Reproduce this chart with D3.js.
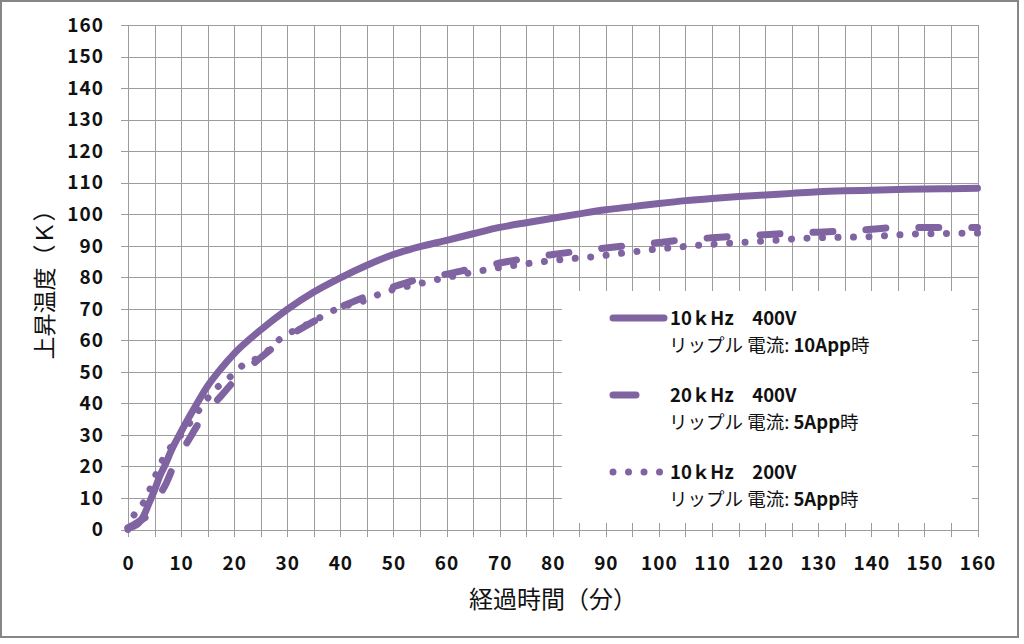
<!DOCTYPE html>
<html><head><meta charset="utf-8">
<script src="https://cdn.jsdelivr.net/npm/d3@7"></script>
<style>html,body{margin:0;padding:0;background:#fff;}svg{display:block;}</style>
</head><body>
<svg id="c" width="1024" height="644"></svg>
<script>
// ---- data ----
const xTicks = [0,10,20,30,40,50,60,70,80,90,100,110,120,130,140,150,160];
const yTicks = [0,10,20,30,40,50,60,70,80,90,100,110,120,130,140,150,160];
const xGrid = d3.range(0, 161, 5);

const seriesNames = ["10ｋHz　400V", "20ｋHz　400V", "10ｋHz　200V"];
const seriesSub = ["10App", "5App", "5App"];

const timeSolid = [0,1,2,3,4,5,6,7,8,10,12.5,15,17.5,20,25,30,35,40,45,50,55,60,65,70,75,80,85,90,95,100,105,110,115,120,125,130,135,140,145,150,155,160];
const valSolid  = [0.5,1,2,4.5,8.5,12.5,17,20.5,24.5,31,38.5,45.5,51,55.8,63.3,69.8,75.3,79.8,83.8,87.2,89.7,91.7,93.8,95.8,97.3,98.7,100.1,101.4,102.4,103.4,104.3,105,105.6,106.1,106.6,107.1,107.4,107.6,107.8,108,108.1,108.2];

const timeDash = [0,2,4,6,7,8.7,11.5,14,17.5,20.5,25,30,35,40,45,50,55,60,65,70,75,80,85,90,95,100,105,110,115,120,125,130,135,140,145,150,155,160];
const valDash  = [0.5,2.5,5,11,14,20.5,28.6,35.5,42.3,48,54.5,61,66,70.5,74,77,79.5,81,82.8,84.5,86,87.2,88.3,89.3,90.2,91,92,92.5,93.1,93.5,94,94.3,94.7,95.2,95.8,95.8,95.8,95.8];

const timeDot = [0,1.5,3.4,4.6,6.8,10,13.7,15.6,20,22.2,24.7,29.4,32.5,35,40,44.4,48,55,59.4,68,79.4,88,99.5,108,120,128,140,148,160];
const valDot  = [0,5.8,9.7,14.8,23,30,38.6,42.9,49.5,52.9,54.5,61.4,64,66.2,70.4,72.5,75.1,78,79.7,82.5,85.2,86.6,88.9,90.2,91.5,92.4,92.9,93.7,94];

// ---- layout ----
const color = "#8064A2";
const svg = d3.select("#c");
const x = d3.scaleLinear().domain([0,160]).range([128, 977.5]);
const y = d3.scaleLinear().domain([0,160]).range([529.5, 25]);
const font = "'Noto Sans CJK JP','Noto Sans',sans-serif";

svg.append("rect").attr("x",0).attr("y",0).attr("width",1024).attr("height",644).attr("fill","#fff");
svg.append("rect").attr("x",1).attr("y",1).attr("width",1017).attr("height",636)
  .attr("fill","#fff").attr("stroke","#868686").attr("stroke-width",2);

// grid
const grid = svg.append("g").attr("stroke","#9c9c9c").attr("stroke-width",1).attr("shape-rendering","crispEdges");
grid.selectAll("line.v").data(xGrid).join("line")
  .attr("x1",d=>Math.round(x(d))+0.5).attr("x2",d=>Math.round(x(d))+0.5)
  .attr("y1",y(160)).attr("y2",y(0)+7);
grid.selectAll("line.h").data(yTicks).join("line")
  .attr("x1",x(0)-7).attr("x2",x(160))
  .attr("y1",d=>Math.round(y(d))+0.5).attr("y2",d=>Math.round(y(d))+0.5);

// axes labels
svg.append("g").selectAll("text").data(yTicks).join("text")
  .attr("x",104).attr("y",d=>y(d)).attr("dy","0.36em").attr("text-anchor","end")
  .attr("font-family",font).attr("font-size",19).attr("font-weight","bold").attr("letter-spacing","1px").attr("fill","#111")
  .text(d=>d);
svg.append("g").selectAll("text").data(xTicks).join("text")
  .attr("x",d=>x(d)+0.5).attr("y",563).attr("dy","0.36em").attr("text-anchor","middle")
  .attr("font-family",font).attr("font-size",19).attr("font-weight","bold").attr("letter-spacing","1px").attr("fill","#111")
  .text(d=>d);

svg.append("text").attr("x",553).attr("y",599).attr("dy","0.36em").attr("text-anchor","middle")
  .attr("font-family",font).attr("font-size",24).attr("fill","#111").text("経過時間（分）");
svg.append("text").attr("transform","translate(45,279) rotate(-90)").attr("dy","0.36em").attr("text-anchor","middle")
  .attr("font-family",font).attr("font-size",23).attr("fill","#111").text("上昇温度（Ｋ）");

// series
const line = d3.line().x(d=>x(d[0])).y(d=>y(d[1])).curve(d3.curveMonotoneX);
const styles = [
  {dash:null},
  {dash:"20 33"},
  {dash:"0.01 15.5"}
];
const data = [
  d3.zip(timeSolid, valSolid),
  d3.zip(timeDash, valDash),
  d3.zip(timeDot, valDot)
];
data.forEach((d,i)=>{
  const p = svg.append("path").datum(d).attr("d",line).attr("fill","none")
    .attr("stroke",color).attr("stroke-width",7).attr("stroke-linecap","round").attr("stroke-linejoin","round");
  if (styles[i].dash) p.attr("stroke-dasharray",styles[i].dash);
});

// legend
const lg = svg.append("g");
lg.append("rect").attr("x",562).attr("y",291).attr("width",410).attr("height",232).attr("fill","#fff");
const rows = [318, 395, 472];
const lineEnds = [[613,664],[613,636],[613,660]];
rows.forEach((ry,i)=>{
  const l = lg.append("line").attr("x1",lineEnds[i][0]).attr("x2",lineEnds[i][1]).attr("y1",ry).attr("y2",ry)
    .attr("stroke",color).attr("stroke-width",7).attr("stroke-linecap","round");
  if (i===2) l.attr("stroke-dasharray","0.01 15.5");
  lg.append("text").attr("x",670).attr("y",ry).attr("dy","0.36em")
    .attr("font-family",font).attr("font-size",18.5).attr("font-weight","bold").attr("fill","#111")
    .text(seriesNames[i]);
  const t2 = lg.append("text").attr("x",669).attr("y",ry+27).attr("dy","0.36em")
    .attr("font-family",font).attr("font-size",18.5).attr("fill","#111");
  t2.append("tspan").text("リップル 電流: ");
  t2.append("tspan").attr("font-weight","bold").text(seriesSub[i]);
  t2.append("tspan").text("時");
});
</script>
</body></html>
